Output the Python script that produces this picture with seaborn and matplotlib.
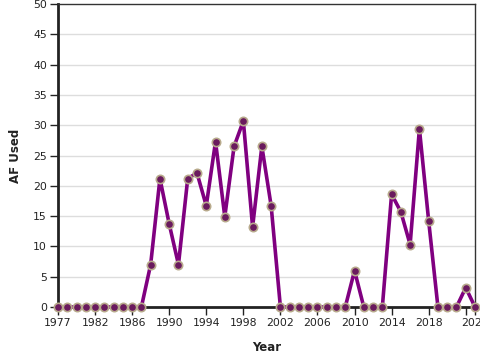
import pandas as pd
import matplotlib
matplotlib.use('Agg')
import matplotlib.pyplot as plt
import seaborn as sns

years = list(range(1977, 2023))
af_used = [0, 0, 0, 0, 0, 0, 0, 0, 0, 0,
           7.0, 21.2, 13.7, 7.0, 21.2, 22.1, 16.7, 27.3, 14.9, 26.5,
           30.7, 13.2, 26.5, 16.7, 0, 0, 0, 0, 0, 0,
           0, 0, 6.0, 0, 0, 0, 18.6, 15.7, 10.3, 29.4,
           14.2, 0, 0, 0, 3.2, 0]

# each value is dated at the end of its year
df = pd.DataFrame({'Year': years, 'AF Used': af_used})
df['date'] = pd.to_datetime(df['Year'].astype(str) + '-12-31')

sns.set_style('white')
plt.rcParams['font.family'] = ['DejaVu Sans']

fig = plt.figure(figsize=(4.8, 3.6), dpi=100)
ax = fig.add_axes([58/480, 1-307/360, (475-58)/480, (307-4)/360])

sns.lineplot(data=df, x='date', y='AF Used', ax=ax, color='#800080', lw=2.6,
             marker='o', markersize=6, markerfacecolor='#6a1a5e',
             markeredgecolor='#b8aa8c', markeredgewidth=1.2, zorder=3)

ax.set_xlim(df['date'].iloc[0], df['date'].iloc[-1])
ax.set_ylim(0, 50)
ax.set_yticks(range(0, 51, 5))
for v in range(5, 50, 5):
    ax.axhline(v, color='#dddddd', lw=1, zorder=0)

mid_ticks = [pd.Timestamp(f'{y}-01-01') for y in range(1982, 2023, 4)]
ticks = [df['date'].iloc[0]] + mid_ticks + [df['date'].iloc[-1]]
labels = ['1977'] + [str(y) for y in range(1982, 2019, 4)] + ['', '2022']
ax.set_xticks(ticks)
ax.set_xticklabels(labels)

for s in ['top', 'right']:
    ax.spines[s].set_color('#333333')
    ax.spines[s].set_linewidth(1)
for s in ['left', 'bottom']:
    ax.spines[s].set_color('#222222')
    ax.spines[s].set_linewidth(2)

ax.tick_params(axis='both', length=6, width=1, color='#222222',
               labelsize=7.8, labelcolor='#222222', direction='out', pad=2)
ax.tick_params(axis='both', which='both', bottom=True, left=True)

ax.set_xlabel('Year', fontsize=8.5, fontweight='bold', color='#222222', labelpad=9)
ax.set_ylabel('AF Used', fontsize=8.5, fontweight='bold', color='#222222', labelpad=8)

for c in ax.get_lines():
    c.set_clip_on(False)

fig.savefig('out.png', dpi=100)
